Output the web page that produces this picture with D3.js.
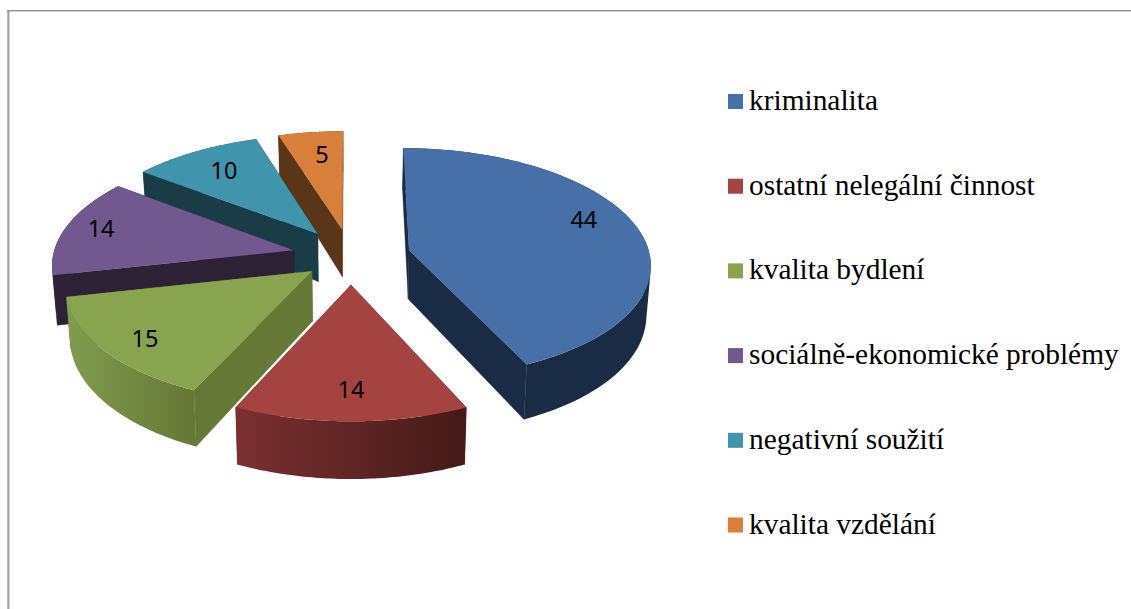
<!DOCTYPE html>
<html><head><meta charset="utf-8">
<style>html,body{margin:0;background:#fff}svg{display:block}</style>
<script src="https://cdn.jsdelivr.net/npm/d3@7"></script></head>
<body><svg id="c" width="1131" height="609"></svg>
<script>
const categories = ["kriminalita","ostatní nelegální činnost","kvalita bydlení","sociálně-ekonomické problémy","negativní soužití","kvalita vzdělání"];
const values = [44,14,15,14,10,5];
const topColors = ["#4670A7","#A54341","#89A44E","#71588F","#4095AD","#D97F3C"];
const wallColors = ["#1A2C45","#5A2423","#657836","#2D2136","#1A3C47","#5A3517"];
const arcLeft = ["#1A2C45","#7B3030","#809C4E","#2D2136","#1A3C47","#5A3517"];
const arcRight = ["#1A2C45","#431A17","#657836","#2D2136","#1A3C47","#5A3517"];
const explosion = [.248,.244,.205,.244,.244,.244];
const labelRadius = [.81,.79,.83,.85,.75,.75];
const labelTurn = [-8,0,-1.5,1,0,1.5];
const paintOrder = [5,4,3,2,0,1];

const cx=351, cy=256.3, R=241, Rk=114.5, persp=.11;
const sx=d3.scaleLinear().domain([0,1]).range([0,R]);
const sy=d3.scaleLinear().domain([0,1]).range([0,Rk]);
const svg=d3.select("#c");
const defs=svg.append("defs");
const project=(u,v)=>{const s=1/(1-persp*v);return [cx+sx(u)*s,cy+sy(v)*s];};
const lower=(u,v)=>{const p=project(u,v);return [cx+(p[0]-cx)*.985,p[1]+49+7*v];};
const line=d3.line();
const arcs=d3.pie().sort(null).startAngle(0).endAngle(2*Math.PI)(values);

// frame
svg.append("rect").attr("x",7.3).attr("y",10).attr("width",2.2).attr("height",599).attr("fill","#A2A2A2");
svg.append("rect").attr("x",7).attr("y",10).attr("width",1124).attr("height",1.4).attr("fill","#909090");

const gSlices=svg.append("g");
paintOrder.forEach(i=>{
  const a=arcs[i], mid=(a.startAngle+a.endAngle)/2, e=explosion[i];
  const u0=e*Math.sin(mid), v0=-e*Math.cos(mid);
  const pt=t=>[u0+Math.sin(t),v0-Math.cos(t)];
  const ts=d3.range(0,61).map(k=>a.startAngle+(a.endAngle-a.startAngle)*k/60);
  const rim=ts.map(pt);
  const g=gSlices.append("g");
  const grad=defs.append("linearGradient").attr("id","arc"+i).attr("gradientUnits","userSpaceOnUse");
  const xs=rim.filter(d=>d[1]>v0).map(d=>project(d[0],d[1])[0]);
  grad.attr("x1",d3.min(xs)||0).attr("x2",d3.max(xs)||1).attr("y1",0).attr("y2",0);
  grad.append("stop").attr("offset",0).attr("stop-color",arcLeft[i]);
  grad.append("stop").attr("offset",1).attr("stop-color",arcRight[i]);
  const wall=(p,q)=>[project(p[0],p[1]),project(q[0],q[1]),lower(q[0],q[1]),lower(p[0],p[1])];
  const startW=wall([u0,v0],rim[0]), endW=wall([u0,v0],rim[60]);
  const walls=[startW,endW].sort((A,B)=>d3.mean(A,d=>d[1])-d3.mean(B,d=>d[1]));
  walls.forEach(w=>g.append("path").attr("d",line(w)+"Z").attr("fill",wallColors[i]).attr("stroke",wallColors[i]).attr("stroke-width",.4));
  // outer wall: one path of equally oriented quads, so no seams and no holes
  const band=d3.pairs(rim).map(([p,q])=>{
    const w=wall(p,q);
    return line(d3.polygonArea(w)<0?w.reverse():w)+"Z";
  }).join("");
  g.append("path").attr("d",band).attr("fill",`url(#arc${i})`);
  const top=[project(u0,v0)].concat(rim.map(d=>project(d[0],d[1])));
  g.append("path").attr("d",line(top)+"Z").attr("fill",topColors[i]);
});

// data labels
const gLabels=svg.append("g");
arcs.forEach((a,i)=>{
  const mid=(a.startAngle+a.endAngle)/2, e=explosion[i], t=mid+labelTurn[i]*Math.PI/180;
  const u=e*Math.sin(mid)+labelRadius[i]*Math.sin(t), v=-e*Math.cos(mid)-labelRadius[i]*Math.cos(t);
  const p=project(u,v);
  gLabels.append("text").attr("x",p[0]).attr("y",p[1]).attr("dy","0.36em").attr("text-anchor","middle")
    .attr("font-family","'Noto Sans'").attr("font-size",23.5).attr("fill","#000").text(values[i]);
});

// legend
const ly=d3.scalePoint().domain(categories).range([101.5,525]);
const gLegend=svg.append("g");
categories.forEach((c,i)=>{
  gLegend.append("rect").attr("x",728).attr("y",ly(c)-7.5).attr("width",15).attr("height",15).attr("fill",topColors[i]);
  gLegend.append("text").attr("x",749).attr("y",ly(c)+8.5).attr("font-family","'Liberation Serif'").attr("font-size",29.4).attr("fill","#000").text(c);
});
</script></body></html>
